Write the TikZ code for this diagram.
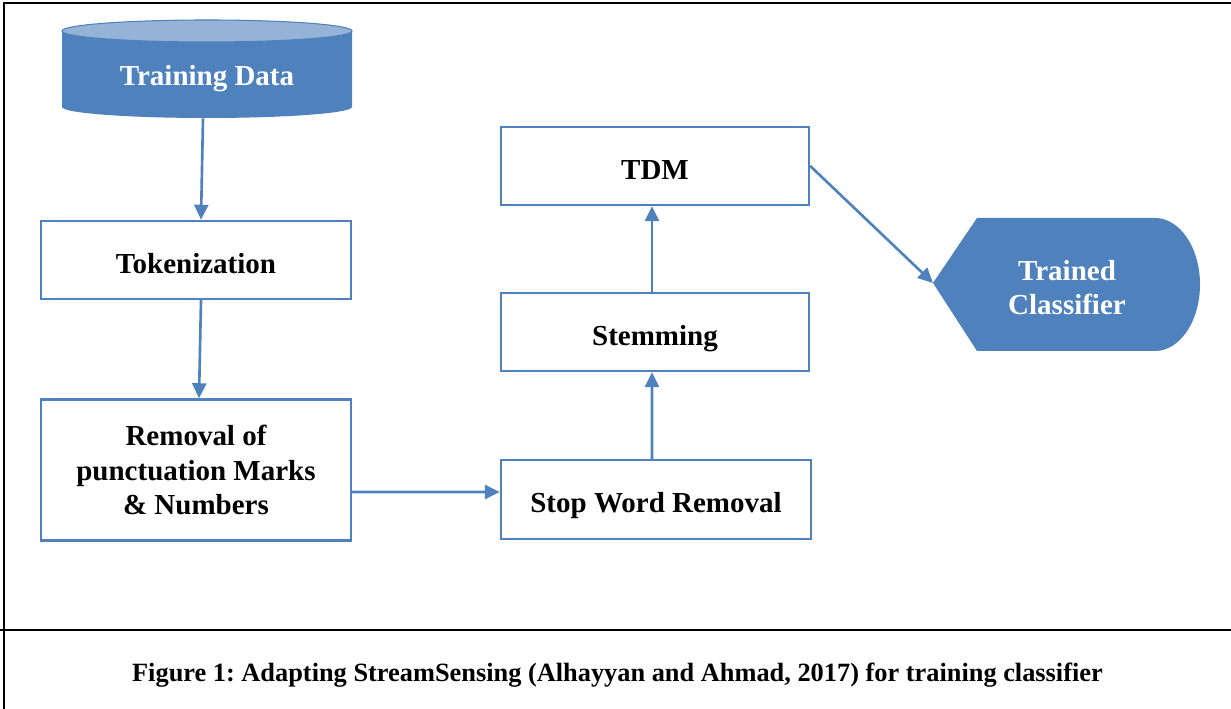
\documentclass[tikz,border=0pt]{standalone}
\usepackage{fontspec}
\setmainfont{Liberation Serif}
\usepackage{tikz}
\usetikzlibrary{arrows.meta}
\definecolor{myblue}{RGB}{79, 129, 189}
\definecolor{mylightblue}{RGB}{149, 179, 215}
\tikzset{>={Triangle[length=0.3cm, width=0.28cm]}}
\tikzset{stepbox/.style = {draw = myblue, line width = 1.4pt, fill = white, minimum width = 6.2cm, minimum height = 1.56cm, align = center, font = \bfseries\fontsize{16.5}{19.5}\selectfont}}
\tikzset{oneline/.style = {text height = 0.54cm, text depth = 0cm}}
\tikzset{flow/.style = {->, draw = myblue, fill = myblue, line width = 1.5pt}}
\tikzset{whitetext/.style = {text = white, align = center, font = \bfseries\fontsize{16.5}{19.5}\selectfont}}
\frenchspacing

\begin{document}
\begin{tikzpicture}
\useasboundingbox (0,0) rectangle (24.62,14.18);
\draw[line width = 1.5pt] (0.08,0) -- (0.08,14.12) -- (24.62,14.12);
\draw[line width = 1.2pt] (0,1.58) -- (24.62,1.58);
\fill[myblue] (1.24,13.56) -- (1.24,12.04) arc[start angle = 180, end angle = 360, x radius = 2.9, y radius = 0.22] -- (7.04,13.56) -- cycle;
\draw[myblue, fill = mylightblue, line width = 0.6pt] (4.14,13.56) ellipse [x radius = 2.9, y radius = 0.22];
\node[whitetext, minimum width = 5.8cm, minimum height = 1.56cm] (data) at (4.14,12.60) {Training Data};
\node[stepbox, oneline] (token) at (3.92,8.98) {Tokenization};
\node[stepbox, minimum height = 2.82cm] (removal) at (3.92,4.78) {Removal of\\punctuation Marks\\\& Numbers};
\node[stepbox, oneline, minimum height = 1.58cm] (stop) at (13.12,4.19) {Stop Word Removal};
\node[stepbox, oneline, minimum width = 6.16cm] (stem) at (13.10,7.54) {Stemming};
\node[stepbox, oneline, minimum width = 6.16cm] (tdm) at (13.10,10.86) {TDM};
\fill[myblue] (18.66,8.52) -- (19.54,9.82) -- (23.1,9.82) arc[start angle = 90, end angle = -90, x radius = 0.9, y radius = 1.33] -- (19.54,7.16) -- cycle;
\node[whitetext] (clf) at (21.34,8.43) {Trained\\Classifier};
\coordinate (clftip) at (18.66,8.52);
\draw[flow] ([xshift = -0.08cm]data.south) -- ([xshift = 0.1cm]token.north);
\draw[flow] ([xshift = 0.1cm]token.south) -- ([xshift = 0.06cm]removal.north);
\draw[flow] ([yshift = -0.44cm]removal.east) -- ([yshift = 0.15cm]stop.west);
\draw[flow] ([xshift = -0.08cm]stop.north) -- ([xshift = -0.06cm]stem.south);
\draw[flow] ([xshift = -0.06cm]stem.north) -- ([xshift = -0.06cm]tdm.south);
\draw[flow] (tdm.east) -- (clftip);
\node[font = \bfseries\fontsize{15}{18}\selectfont] (caption) at (12.35,0.68) {Figure 1: Adapting StreamSensing (Alhayyan and Ahmad, 2017) for training classifier};
\end{tikzpicture}
\end{document}
